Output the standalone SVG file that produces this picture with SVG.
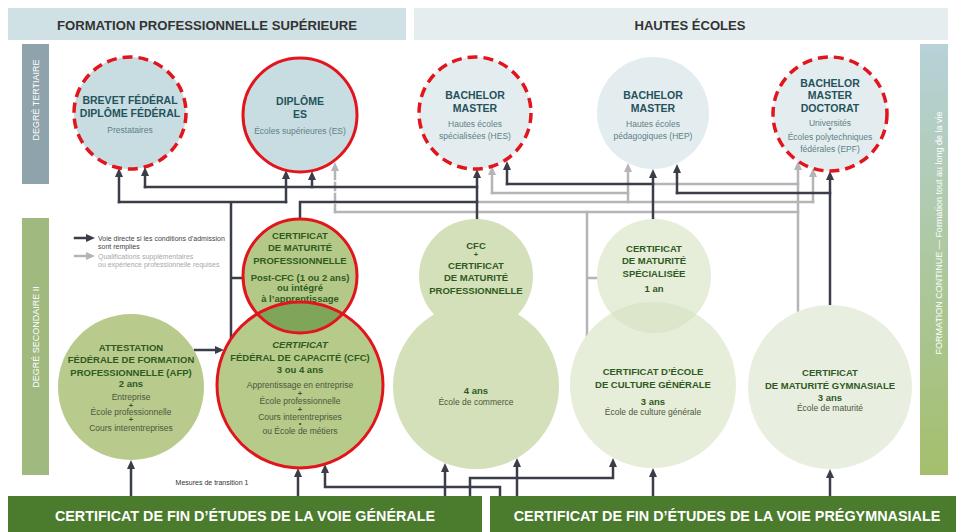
<svg xmlns="http://www.w3.org/2000/svg" width="956" height="532" viewBox="0 0 956 532">
<style>
  .hdr{font-family:"Liberation Sans",Arial,sans-serif;font-weight:bold;font-size:13px;fill:#333;text-anchor:middle}
  .side{font-family:"Liberation Sans",Arial,sans-serif;font-size:9px;fill:#fff;text-anchor:middle}
  .tt{font-family:"Liberation Sans",Arial,sans-serif;font-weight:bold;font-size:10.5px;fill:#25525c;text-anchor:middle}
  .tb{font-family:"Liberation Sans",Arial,sans-serif;font-size:8.5px;fill:#5f7f88;text-anchor:middle}
  .gt{font-family:"Liberation Sans",Arial,sans-serif;font-weight:bold;font-size:9.5px;fill:#2f5a1f;text-anchor:middle}
  .gb{font-family:"Liberation Sans",Arial,sans-serif;font-size:8.5px;fill:#4b573c;text-anchor:middle}
  .pl{font-family:"Liberation Sans",Arial,sans-serif;font-weight:bold;font-size:7.5px;fill:#2f5a1f;text-anchor:middle}
  .leg{font-family:"Liberation Sans",Arial,sans-serif;font-size:7px}
  .bar{font-family:"Liberation Sans",Arial,sans-serif;font-weight:bold;font-size:15px;fill:#fff;text-anchor:middle}
  .dk{fill:none;stroke:#3b3d48;stroke-width:2.5;stroke-linecap:square}
  .gy{fill:none;stroke:#b4b4b9;stroke-width:2.5;stroke-linecap:square}
  .ad{marker-end:url(#ahd)}
  .ag{marker-end:url(#ahg)}
  .redd{fill:none;stroke:#e2141c;stroke-width:3.5;stroke-dasharray:10 6}
  .reds{fill:none;stroke:#e2141c;stroke-width:3}
</style>
<defs>
  <marker id="ahd" viewBox="0 0 9 8" refX="2" refY="4" markerWidth="9" markerHeight="8" markerUnits="userSpaceOnUse" orient="auto">
    <path d="M0,0 L9,4 L0,8 z" fill="#3b3d48"/>
  </marker>
  <marker id="ahg" viewBox="0 0 9 8" refX="2" refY="4" markerWidth="9" markerHeight="8" markerUnits="userSpaceOnUse" orient="auto">
    <path d="M0,0 L9,4 L0,8 z" fill="#b4b4b9"/>
  </marker>
  <linearGradient id="fc" x1="0" y1="0" x2="0" y2="1">
    <stop offset="0" stop-color="#b7d2d9"/>
    <stop offset="0.5" stop-color="#adc8a0"/>
    <stop offset="1" stop-color="#a4bf6c"/>
  </linearGradient>
  <clipPath id="clipCFC"><circle cx="300" cy="385" r="83"/></clipPath>
  <clipPath id="clipECG"><circle cx="653" cy="385" r="83"/></clipPath>
</defs>
<rect width="956" height="532" fill="#fff"/>

<!-- headers -->
<g id="header-fps">
  <rect x="8" y="8" width="398" height="32" fill="#cfe1e5"/>
  <text class="hdr" x="207" y="29.5" textLength="300" lengthAdjust="spacingAndGlyphs">FORMATION PROFESSIONNELLE SUPÉRIEURE</text>
</g>
<g id="header-he">
  <rect x="414" y="8" width="534" height="32" fill="#e5edef"/>
  <text class="hdr" x="690" y="29.5" textLength="111" lengthAdjust="spacingAndGlyphs">HAUTES ÉCOLES</text>
</g>

<!-- side bars -->
<g id="bar-tertiaire">
  <rect x="22" y="44" width="27" height="140" fill="#8fa3ac"/>
  <text class="side" transform="translate(39,100) rotate(-90)">DEGRÉ TERTIAIRE</text>
</g>
<g id="bar-secondaire">
  <rect x="22" y="218" width="27" height="257" fill="#9fb97f"/>
  <text class="side" transform="translate(39,337) rotate(-90)">DEGRÉ SECONDAIRE II</text>
</g>
<g id="bar-continue">
  <rect x="920" y="44" width="28" height="431" fill="url(#fc)"/>
  <text class="side" font-size="10" transform="translate(941.5,233) rotate(-90)">FORMATION CONTINUE  —  Formation tout au long de la vie</text>
</g>

<!-- connectors -->
<g id="connectors">
  <!-- grey: additional qualifications -->
  <path class="gy ag" d="M335,212 V169" stroke-dasharray="7 4"/>
  <path class="gy" d="M335,212 H798"/>
  <path class="gy ag" d="M798,311 V168"/>
  <path class="gy" d="M587,212 V336 M587,278 H597"/>
  <path class="gy" d="M477,202 H813"/>
  <path class="gy ag" d="M813,202 V175"/>
  <path class="gy ag" d="M628,202 V170"/>
  <path class="gy" d="M492,193 H628"/>
  <path class="gy ag" d="M492,193 V173"/>
  <path class="gy" d="M653,184 H798"/>
  <!-- dark: direct -->
  <path class="dk" d="M231,341 V202 M119,202 H286 M231,278 H243"/>
  <path class="dk ad" d="M119,202 V175"/>
  <path class="dk ad" d="M286,202 V177"/>
  <path class="dk ad" d="M477,219 V176"/>
  <path class="dk" d="M145,187 H477"/>
  <path class="dk ad" d="M145,187 V174"/>
  <path class="dk ad" d="M312,187 V178"/>
  <path class="dk" d="M300,219 V202 H477"/>
  <path class="dk ad" d="M653,219 V176"/>
  <path class="dk" d="M507,184 H653"/>
  <path class="dk ad" d="M507,184 V168"/>
  <path class="dk ad" d="M830,305 V178"/>
  <path class="dk" d="M677,193 H830"/>
  <path class="dk ad" d="M677,193 V171"/>
  <path class="dk ad" d="M195,350 H217"/>
  <!-- from bottom bars -->
  <path class="dk ad" d="M131,496 V467"/>
  <path class="dk ad" d="M298,496 V475"/>
  <path class="dk ad" d="M500,496 V487 H325 V471"/>
  <path class="dk ad" d="M445,496 V470"/>
  <path class="dk ad" d="M470,496 V478 H613 V465"/>
  <path class="dk ad" d="M517,496 V465"/>
  <path class="dk ad" d="M653,496 V475"/>
  <path class="dk ad" d="M830,496 V476"/>
  <!-- legend -->
  <path class="dk ad" d="M75,238 H88" stroke-width="3"/>
  <path class="gy ag" d="M75,256 H88" stroke-width="3"/>
</g>

<g id="legend">
  <text class="leg" fill="#444" x="98" y="240.5">Voie directe si les conditions d’admission</text>
  <text class="leg" fill="#444" x="98" y="248.5">sont remplies</text>
  <text class="leg" fill="#a8a8ac" x="98" y="258.5">Qualifications supplémentaires</text>
  <text class="leg" fill="#a8a8ac" x="98" y="266.5">ou expérience professionnelle requises</text>
</g>

<!-- tertiary nodes -->
<g id="n-brevet">
  <circle cx="130" cy="113" r="56" fill="#c8dde1"/>
  <circle class="redd" cx="130" cy="113" r="56"/>
  <text class="tt" x="130" y="103.5">BREVET FÉDÉRAL</text>
  <text class="tt" x="130" y="116.5">DIPLÔME FÉDÉRAL</text>
  <text class="tb" x="130" y="133">Prestataires</text>
</g>
<g id="n-es">
  <circle cx="300" cy="115" r="57" fill="#c8dde1"/>
  <circle class="reds" cx="300" cy="115" r="57"/>
  <text class="tt" x="300" y="104.5">DIPLÔME</text>
  <text class="tt" x="300" y="117.5">ES</text>
  <text class="tb" x="300" y="134">Écoles supérieures (ES)</text>
</g>
<g id="n-hes">
  <circle cx="475" cy="113" r="56" fill="#e3edef"/>
  <circle class="redd" cx="475" cy="113" r="56"/>
  <text class="tt" x="475" y="98.5">BACHELOR</text>
  <text class="tt" x="475" y="111.5">MASTER</text>
  <text class="tb" x="475" y="127">Hautes écoles</text>
  <text class="tb" x="475" y="139">spécialisées (HES)</text>
</g>
<g id="n-hep">
  <circle cx="653" cy="113" r="56" fill="#e3edef"/>
  <text class="tt" x="653" y="98.5">BACHELOR</text>
  <text class="tt" x="653" y="111.5">MASTER</text>
  <text class="tb" x="653" y="127">Hautes écoles</text>
  <text class="tb" x="653" y="139">pédagogiques (HEP)</text>
</g>
<g id="n-uni">
  <circle cx="830" cy="114" r="57" fill="#e3edef"/>
  <circle class="redd" cx="830" cy="114" r="57"/>
  <text class="tt" x="830" y="86.5">BACHELOR</text>
  <text class="tt" x="830" y="99">MASTER</text>
  <text class="tt" x="830" y="111.5">DOCTORAT</text>
  <text class="tb" x="830" y="125.5">Universités</text>
  <text class="tb" x="830" y="132" font-size="5">•</text>
  <text class="tb" x="830" y="140">Écoles polytechniques</text>
  <text class="tb" x="830" y="152">fédérales (EPF)</text>
</g>

<!-- secondary II nodes -->
<g id="n-afp">
  <circle cx="131" cy="387" r="73" fill="#b8cb8d"/>
  <text class="gt" x="131" y="350.5">ATTESTATION</text>
  <text class="gt" x="131" y="362.5">FÉDÉRALE DE FORMATION</text>
  <text class="gt" x="131" y="376">PROFESSIONNELLE (AFP)</text>
  <text class="gt" x="131" y="386.5">2 ans</text>
  <text class="gb" x="131" y="399.5">Entreprise</text>
  <text class="pl" x="131" y="407.5">+</text>
  <text class="gb" x="131" y="415" font-size="7.5">École professionnelle</text>
  <text class="pl" x="131" y="422">+</text>
  <text class="gb" x="131" y="431">Cours interentreprises</text>
</g>
<g id="n-cfc">
  <circle cx="300" cy="385" r="83" fill="#b6ca89"/>
</g>
<g id="n-cmp">
  <circle cx="300" cy="276" r="57" fill="#b4c987"/>
  <circle cx="300" cy="276" r="57" fill="#7fa558" clip-path="url(#clipCFC)"/>
  <circle class="reds" cx="300" cy="276" r="57"/>
  <text class="gt" x="300" y="238.5">CERTIFICAT</text>
  <text class="gt" x="300" y="251">DE MATURITÉ</text>
  <text class="gt" x="300" y="263.5">PROFESSIONNELLE</text>
  <text class="gt" x="300" y="280.5">Post-CFC (1 ou 2 ans)</text>
  <text class="gt" x="300" y="291">ou intégré</text>
  <text class="gt" x="300" y="301.5">à l’apprentissage</text>
</g>
<g id="n-cfc-text">
  <circle class="reds" cx="300" cy="385" r="83"/>
  <text class="gt" x="300" y="347.5" font-style="italic">CERTIFICAT</text>
  <text class="gt" x="300" y="360.5">FÉDÉRAL DE CAPACITÉ (CFC)</text>
  <text class="gt" x="300" y="372.5">3 ou 4 ans</text>
  <text class="gb" x="300" y="388">Apprentissage en entreprise</text>
  <text class="pl" x="300" y="395.5">+</text>
  <text class="gb" x="300" y="404">École professionnelle</text>
  <text class="pl" x="300" y="411.5">+</text>
  <text class="gb" x="300" y="420">Cours interentreprises</text>
  <text class="pl" x="300" y="426" font-size="5">•</text>
  <text class="gb" x="300" y="434">ou École de métiers</text>
</g>
<g id="n-commerce">
  <circle cx="476" cy="276" r="57" fill="#d4e0b9"/>
  <circle cx="476" cy="386" r="83" fill="#d4e0b9"/>
  <text class="gt" x="476" y="249">CFC</text>
  <text class="pl" x="476" y="256.5">+</text>
  <text class="gt" x="476" y="268.5">CERTIFICAT</text>
  <text class="gt" x="476" y="281">DE MATURITÉ</text>
  <text class="gt" x="476" y="293.5">PROFESSIONNELLE</text>
  <text class="gt" x="476" y="393.5">4 ans</text>
  <text class="gb" x="476" y="405">École de commerce</text>
</g>
<g id="n-ecg">
  <circle cx="653" cy="385" r="83" fill="#e6edd9"/>
  <text class="gt" x="653" y="374.5">CERTIFICAT D’ÉCOLE</text>
  <text class="gt" x="653" y="387.5">DE CULTURE GÉNÉRALE</text>
  <text class="gt" x="653" y="404.5">3 ans</text>
  <text class="gb" x="653" y="415">École de culture générale</text>
</g>
<g id="n-ms">
  <circle cx="654" cy="276" r="57" fill="#e6edd9"/>
  <circle cx="654" cy="276" r="57" fill="#dce6ca" clip-path="url(#clipECG)"/>
  <text class="gt" x="654" y="251.5">CERTIFICAT</text>
  <text class="gt" x="654" y="264">DE MATURITÉ</text>
  <text class="gt" x="654" y="276.5">SPÉCIALISÉE</text>
  <text class="gt" x="654" y="292" font-size="8.5">1 an</text>
</g>
<g id="n-gym">
  <circle cx="830" cy="387" r="82" fill="#e9efe0"/>
  <text class="gt" x="830" y="375.5">CERTIFICAT</text>
  <text class="gt" x="830" y="388.5">DE MATURITÉ GYMNASIALE</text>
  <text class="gt" x="830" y="400.5">3 ans</text>
  <text class="gb" x="830" y="411">École de maturité</text>
</g>

<text class="leg" fill="#333" x="212" y="484.5" text-anchor="middle" font-size="7.5">Mesures de transition 1</text>

<!-- bottom bars -->
<g id="bar-generale">
  <rect x="8" y="496" width="474" height="36" fill="#4b7b2c"/>
  <text class="bar" transform="translate(245,521) scale(0.86,1)" x="0" y="0" textLength="442" lengthAdjust="spacingAndGlyphs">CERTIFICAT DE FIN D’ÉTUDES DE LA VOIE GÉNÉRALE</text>
</g>
<g id="bar-pregym">
  <rect x="490" y="496" width="466" height="36" fill="#4b7b2c"/>
  <text class="bar" transform="translate(727,521) scale(0.86,1)" x="0" y="0" textLength="496" lengthAdjust="spacingAndGlyphs">CERTIFICAT DE FIN D’ÉTUDES DE LA VOIE PRÉGYMNASIALE</text>
</g>
</svg>
